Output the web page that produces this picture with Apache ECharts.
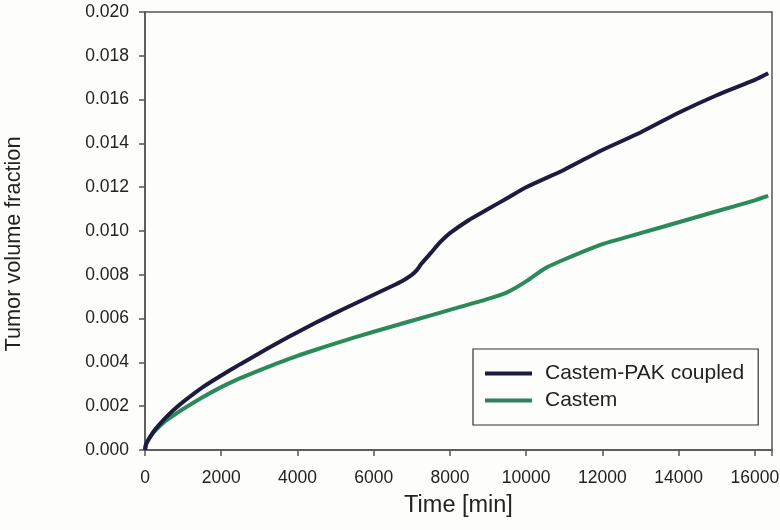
<!DOCTYPE html>
<html>
<head>
<meta charset="utf-8">
<script src="https://cdn.jsdelivr.net/npm/echarts@6/dist/echarts.min.js"></script>
<style>
html,body{margin:0;padding:0;background:#fdfdfb;}
#c{width:780px;height:530px;}
</style>
</head>
<body>
<div id="c"></div>
<script>
// Time [min]
var coupledTime = [0, 25, 100, 250, 500, 750, 1000, 1500, 2000, 2500, 3000, 3500, 4000, 4500, 5000, 5500, 6000, 6500, 6750, 7000, 7125, 7250, 7500, 7750, 8000, 8500, 9000, 9500, 10000, 11000, 12000, 13000, 14000, 15000, 16000, 16350];
var coupledValue = [0, 0.00025, 0.0005, 0.0009, 0.0014, 0.00183, 0.0022, 0.00285, 0.0034, 0.00392, 0.00442, 0.00491, 0.00538, 0.00583, 0.00626, 0.00668, 0.00709, 0.0075, 0.00772, 0.0080, 0.0082, 0.0085, 0.0090, 0.0095, 0.0099, 0.0105, 0.0110, 0.0115, 0.0120, 0.0128, 0.0137, 0.0145, 0.0154, 0.0162, 0.0169, 0.0172];

var castemTime = [0, 25, 100, 250, 500, 750, 1000, 1500, 2000, 2500, 3000, 3500, 4000, 4500, 5000, 5500, 6000, 7000, 8000, 9000, 9500, 10000, 10500, 11000, 12000, 13000, 14000, 15000, 16000, 16350];
var castemValue = [0, 0.00025, 0.0005, 0.00085, 0.00127, 0.00158, 0.00187, 0.0024, 0.00287, 0.00328, 0.00364, 0.00398, 0.0043, 0.00459, 0.00487, 0.00514, 0.0054, 0.0059, 0.0064, 0.0069, 0.0072, 0.0077, 0.0083, 0.0087, 0.0094, 0.0099, 0.0104, 0.0109, 0.0114, 0.0116];

var seriesNames = ['Castem-PAK coupled', 'Castem'];
var xTicks = [0, 2000, 4000, 6000, 8000, 10000, 12000, 14000, 16000];
var yTicks = [0, 0.002, 0.004, 0.006, 0.008, 0.010, 0.012, 0.014, 0.016, 0.018, 0.020];

function zip(a, b) { return a.map(function (v, i) { return [v, b[i]]; }); }

var font = 'Liberation Sans, Arial, sans-serif';
var chart = echarts.init(document.getElementById('c'), null, {renderer: 'canvas'});
chart.setOption({
  backgroundColor: '#fdfdfb',
  animation: false,
  grid: {left: 145, right: 8, top: 12, bottom: 80, show: true, borderColor: '#555', borderWidth: 1.5,
         backgroundColor: 'transparent', containLabel: false, outerBoundsMode: 'none'},
  xAxis: {
    type: 'value', min: xTicks[0], max: 16450, interval: 2000,
    name: 'Time [min]', nameLocation: 'middle', nameGap: 44,
    nameTextStyle: {fontSize: 23.5, color: '#222', fontFamily: font},
    axisLine: {show: true, lineStyle: {color: '#555', width: 1.5}},
    axisTick: {show: true, inside: false, length: 6, lineStyle: {color: '#555', width: 1.5}},
    axisLabel: {margin: 19, fontSize: 17.5, color: '#222', fontFamily: font,
      formatter: function (v) { return xTicks.indexOf(v) >= 0 ? String(v) : ''; }},
    splitLine: {show: false}
  },
  yAxis: {
    type: 'value', min: yTicks[0], max: yTicks[yTicks.length - 1], interval: 0.002,
    name: 'Tumor volume fraction', nameLocation: 'middle', nameGap: 120,
    nameTextStyle: {fontSize: 21.7, color: '#222', fontFamily: font, padding: [0, 26, 0, 0]},
    axisLine: {show: true, lineStyle: {color: '#555', width: 1.5}},
    axisTick: {show: true, inside: false, length: 6, lineStyle: {color: '#555', width: 1.5}},
    axisLabel: {margin: 16, fontSize: 17.5, color: '#222', fontFamily: font,
      formatter: function (v) { return v.toFixed(3); }},
    splitLine: {show: false}
  },
  legend: {
    orient: 'vertical', left: 473, top: 349,
    padding: [14, 14, 14, 12], itemGap: 6,
    borderColor: '#333', borderWidth: 1.2, backgroundColor: '#fdfdfb',
    itemWidth: 47, itemHeight: 4, icon: 'rect',
    textStyle: {fontSize: 21, color: '#222', fontFamily: font, padding: [0, 0, 0, 8]},
    data: seriesNames
  },
  series: [
    {name: seriesNames[0], type: 'line', data: zip(coupledTime, coupledValue), showSymbol: false,
     smooth: 0.2, lineStyle: {color: '#1d1b40', width: 4}, itemStyle: {color: '#1d1b40'}, z: 3},
    {name: seriesNames[1], type: 'line', data: zip(castemTime, castemValue), showSymbol: false,
     smooth: 0.2, lineStyle: {color: '#2a8a5c', width: 4}, itemStyle: {color: '#2e7f66'}, z: 2}
  ]
});
</script>
</body>
</html>
